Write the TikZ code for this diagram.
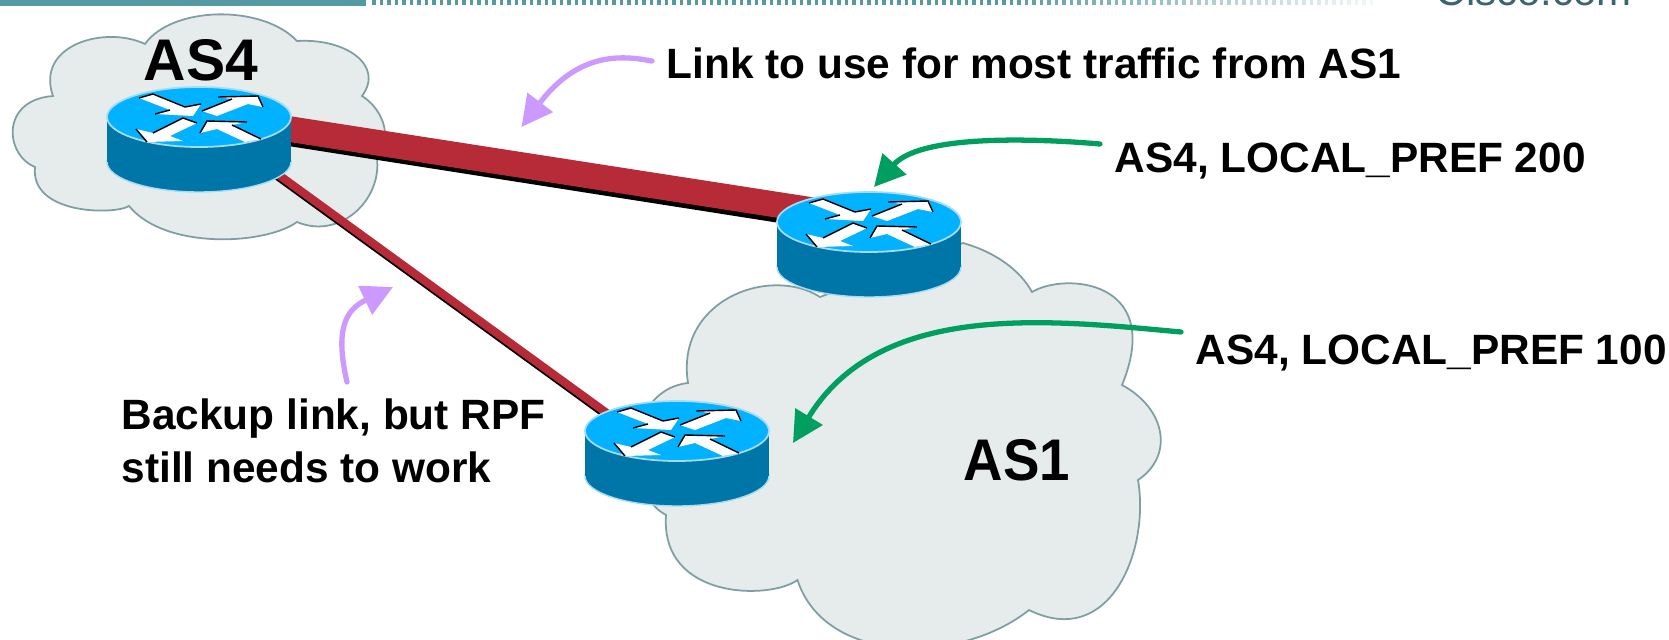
\documentclass[tikz,border=0pt]{standalone}
\usepackage{fontspec}
\setmainfont{Liberation Sans}
\usetikzlibrary{arrows.meta}
\definecolor{cloudgrey}{HTML}{E6ECEC}
\definecolor{cloudline}{HTML}{7F9EA3}
\definecolor{routertop}{HTML}{00B2FF}
\definecolor{routerside}{HTML}{0076A8}
\definecolor{routerline}{HTML}{A6DCF2}
\definecolor{linkred}{HTML}{B72B38}
\definecolor{arrowgreen}{HTML}{009F5F}
\definecolor{arrowpurple}{HTML}{CC99FF}
\definecolor{barteal}{HTML}{5499A3}
\definecolor{logoteal}{HTML}{3A6470}
\tikzset{
  cloud/.style={fill=cloudgrey, draw=cloudline, line width=0.5pt},
  heavylink/.style={linkred, line width=7.3pt},
  heavyshadow/.style={black, line width=7.3pt},
  lightlink/.style={linkred, line width=2.3pt},
  lightshadow/.style={black, line width=2.3pt},
  greenarrow/.style={arrowgreen, line width=1.5pt, line cap=round, -{Triangle[length=8.8pt,width=8.8pt]}},
  purplearrow/.style={arrowpurple, line width=1.5pt, line cap=round, -{Triangle[length=8.8pt,width=8.8pt]}},
  small/.style={font=\fontsize{12.05}{15.08}\selectfont\bfseries, inner sep=0pt, anchor=base west},
  big/.style={font=\fontsize{16.7}{20}\selectfont\bfseries, inner sep=0pt, anchor=base west},
  edge/.style={black, line width=0.4pt},
}
\newcommand{\router}[1]{
  \begin{scope}[shift={(#1)}]
    \filldraw[fill=routerside, draw=routerline, line width=0.4pt] (0, 45) circle [x radius=92, y radius=30];
    \fill[routerside] (-92, 0) rectangle (92, 45);
    \filldraw[fill=routertop, draw=routerline, line width=0.5pt] (0, 0) circle [x radius=92, y radius=30];
    \fill[white] (-60, -19) -- (-46, -23) -- (-14, -10) -- (2, -13) -- (-6, -1) -- (-44, -3) -- (-29, -7) -- cycle;
    \fill[white] (3, -6) -- (33, -18) -- (19, -20) -- (59, -21) -- (64, -10) -- (49, -13) -- (18, -1) -- cycle;
    \fill[white] (-63, 12) -- (-46, 16) -- (-16, 1) -- (-2, 6) -- (-29, 19) -- (-16, 24) -- (-52, 25) -- cycle;
    \fill[white] (1, 16) -- (8, 4) -- (48, 5) -- (33, 8) -- (62, 22) -- (46, 25) -- (18, 12) -- cycle;
    \draw[edge] (-60, -19) -- (-46, -23) -- (-14, -10) -- (2, -13);
    \draw[edge] (-44, -3) -- (-29, -7);
    \draw[edge] (3, -6) -- (33, -18) (19, -20) -- (59, -21) -- (64, -10);
    \draw[edge] (-52, 25) -- (-63, 12) (-46, 16) -- (-16, 1) -- (-2, 6);
    \draw[edge] (1, 16) -- (8, 4) -- (48, 5) (33, 8) -- (62, 22);
  \end{scope}
}

\begin{document}
\begin{tikzpicture}[x=0.01cm, y=-0.01cm]
  \useasboundingbox (0, 0) rectangle (1669, 639);
  % top bar
  \fill[barteal] (0, 0) rectangle (366, 6);
  \foreach \x in {372, 379.5, ..., 1370} {
    \pgfmathsetmacro{\fade}{\x < 1000 ? 1 : max(0.08, 1 - (\x - 1000) / 400)}
    \fill[barteal, fill opacity=\fade] (\x, 0) rectangle ++(3.5, 5);
  }
  \node[inner sep=0pt, anchor=base west, logoteal, font=\fontsize{11.95}{14}\selectfont] (logo) at (1435, 5) {Cisco.com};
  % clouds
  \draw[cloud] (145, 44) .. controls (172, 6) and (262, 4) .. (297, 41)
    .. controls (345, 38) and (385, 65) .. (362, 96)
    .. controls (380, 107) and (395, 135) .. (377, 158)
    .. controls (382, 200) and (340, 240) .. (297, 222)
    .. controls (265, 245) and (165, 250) .. (129, 206)
    .. controls (115, 215) and (30, 215) .. (35, 167)
    .. controls (5, 155) and (0, 100) .. (53, 96)
    .. controls (35, 45) and (105, 25) .. (145, 44) -- cycle;
  \draw[cloud] (963, 243) .. controls (995, 252) and (1020, 270) .. (1032, 292)
    .. controls (1065, 272) and (1165, 280) .. (1122, 385)
    .. controls (1165, 408) and (1175, 455) .. (1138, 480)
    .. controls (1150, 550) and (1110, 650) .. (1029, 610)
    .. controls (960, 665) and (825, 665) .. (797.5, 580)
    .. controls (770, 600) and (660, 600) .. (666, 515)
    .. controls (620, 490) and (625, 390) .. (688, 383)
    .. controls (675, 300) and (770, 265) .. (820, 297) -- cycle;
  % routers and links
  \coordinate (rfour) at (199, 117);
  \coordinate (rtwo) at (869, 222);
  \coordinate (rthree) at (677, 431);
  \draw[heavyshadow] ([shift={(0, 2)}]rfour) -- ([shift={(0, 2)}]rtwo);
  \draw[heavylink] ([shift={(0, -2)}]rfour) -- ([shift={(0, -3)}]rtwo);
  \draw[lightshadow] ([shift={(-1, 1.5)}]rfour) -- ([shift={(-1, 34.5)}]rthree);
  \draw[lightlink] (rfour) -- ([shift={(0, 33)}]rthree);
  \router{rfour}
  \router{rtwo}
  \router{rthree}
  % labels
  \node[big] (asfour) at (143, 80) {AS4};
  \node[big, xscale=0.93] (asone) at (963, 480) {AS1};
  \node[small] (mostlabel) at (666, 78) {Link to use for most traffic from AS1};
  \node[small] (prefhigh) at (1114, 172) {AS4, LOCAL\_PREF 200};
  \node[small] (preflow) at (1195, 364) {AS4, LOCAL\_PREF 100};
  \node[small, anchor=north west, align=left] (backuplabel) at (121, 398.5) {Backup link, but RPF\\still needs to work};
  % arrows
  \coordinate (mosttip) at (521.5, 127);
  \coordinate (backuptip) at (393, 287);
  \coordinate (hightip) at (874, 187);
  \coordinate (lowtip) at (793, 443);
  \draw[purplearrow] ([shift={(-14, -17)}]mostlabel.base west) .. controls (625, 56) and (580, 50) .. (mosttip);
  \draw[purplearrow] ([shift={(226, -16.5)}]backuplabel.north west) .. controls (335, 330) and (345, 310) .. (backuptip);
  \draw[greenarrow] ([shift={(-14, -28)}]prefhigh.base west) .. controls (1030, 138) and (920, 135) .. (hightip);
  \draw[greenarrow] ([shift={(-14, -32)}]preflow.base west) .. controls (1050, 320) and (880, 300) .. (lowtip);
\end{tikzpicture}
\end{document}
